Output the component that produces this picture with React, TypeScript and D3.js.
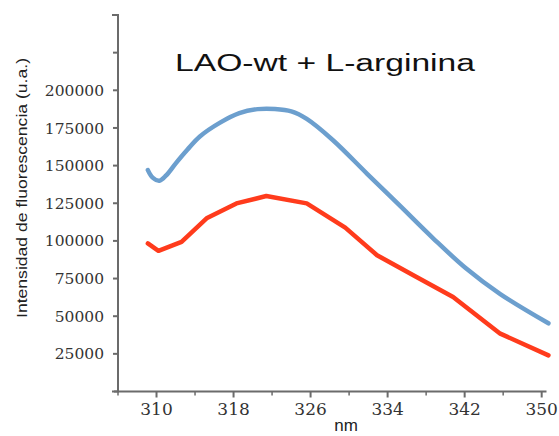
import React from "react";
import * as d3 from "d3";

const blueNm = [309.1, 309.6, 310.3, 311.0, 312.0, 313.2, 314.5, 316.6, 318.6, 320.5, 322.3, 324.0, 325.6, 328.3, 331.9, 335.3, 338.7, 342.1, 345.7, 350.7];
const blueVal = [147000, 142000, 140000, 143500, 151500, 160500, 169300, 178500, 184800, 187500, 187600, 186000, 181000, 167000, 144400, 123200, 101900, 82000, 64700, 45300];

const redNm = [309.1, 310.2, 312.6, 315.2, 318.3, 321.4, 325.6, 329.6, 332.9, 337.0, 340.8, 345.7, 350.7];
const redVal = [98300, 93400, 99400, 115000, 124900, 129800, 124900, 108800, 90500, 76000, 62800, 38400, 24000];

const yTickVals = [25000, 50000, 75000, 100000, 125000, 150000, 175000, 200000, 225000];
const yLabelVals = [25000, 50000, 75000, 100000, 125000, 150000, 175000, 200000];
const xMajorTicks = [310, 318, 326, 334, 342, 350];
const xMinorTicks = [306, 314, 322, 330, 338, 346];

const title = "LAO-wt + L-arginina";
const yTitle = "Intensidad de fluorescencia (u.a.)";
const xTitle = "nm";

export default function App() {
  const W = 559, H = 436;
  const x = d3.scaleLinear().domain([306, 350.5]).range([118, 546.5]);
  const y = d3.scaleLinear().domain([0, 250000]).range([391.5, 15]);

  const line = d3.line<[number, number]>()
    .x(d => x(d[0]))
    .y(d => y(d[1]))
    .curve(d3.curveCatmullRom.alpha(0.5));
  const lineLin = d3.line<[number, number]>()
    .x(d => x(d[0]))
    .y(d => y(d[1]));

  const blue = blueNm.map((n, i) => [n, blueVal[i]] as [number, number]);
  const red = redNm.map((n, i) => [n, redVal[i]] as [number, number]);

  const axisColor = "#6b6b6b";
  const x0 = x.range()[0];
  const y0 = y.range()[0];
  const yTop = y.range()[1];
  const xEnd = x.range()[1];

  return (
    <svg width={W} height={H} style={{ position: "absolute", left: 0, top: 0, background: "#fff" }}>
      <rect width={W} height={H} fill="#fff" />
      {/* Title */}
      <text x={175} y={71} fontFamily="'Liberation Sans', Arial, sans-serif" fontSize={23}
        textLength={300} lengthAdjust="spacingAndGlyphs" fill="#111">{title}</text>

      {/* Y axis */}
      <path d={`M${x0 - 6},${yTop}H${x0}V${y0}H${x0 - 6}`} fill="none" stroke={axisColor} strokeWidth={2} />
      {yTickVals.map(v => (
        <line key={v} x1={x0 - 5} x2={x0} y1={y(v)} y2={y(v)} stroke={axisColor} strokeWidth={2} />
      ))}
      {yLabelVals.map(v => (
        <text key={v} x={104} y={y(v)} dy="0.36em" textAnchor="end" fontFamily="'DejaVu Serif', serif"
          fontSize={15.5} fill="#333">{v}</text>
      ))}
      <text transform={`translate(27,188) rotate(-90)`} textAnchor="middle"
        fontFamily="'Liberation Sans', Arial, sans-serif" fontSize={15} textLength={260}
        lengthAdjust="spacingAndGlyphs" fill="#222">{yTitle}</text>

      {/* X axis */}
      <path d={`M${x0 - 4},${y0}H${xEnd}`} fill="none" stroke={axisColor} strokeWidth={2} />
      {xMajorTicks.map(v => (
        <line key={v} x1={x(v)} x2={x(v)} y1={y0} y2={y0 + 6} stroke={axisColor} strokeWidth={2} />
      ))}
      {xMinorTicks.map(v => (
        <line key={v} x1={x(v)} x2={x(v)} y1={y0} y2={y0 + 4} stroke={axisColor} strokeWidth={1.5} />
      ))}
      {xMajorTicks.map(v => (
        <text key={v} x={x(v)} y={415} textAnchor="middle" fontFamily="'DejaVu Serif', serif"
          fontSize={17} fill="#333">{v}</text>
      ))}
      <text x={346} y={431} textAnchor="middle" fontFamily="'Liberation Sans', Arial, sans-serif"
        fontSize={17} fill="#222">{xTitle}</text>

      {/* Series */}
      <path d={lineLin(red) || ""} fill="none" stroke="#ff3b1c" strokeWidth={4.5} strokeLinejoin="round" strokeLinecap="round" />
      <path d={line(blue) || ""} fill="none" stroke="#6c9fce" strokeWidth={4.5} strokeLinejoin="round" strokeLinecap="round" />
    </svg>
  );
}
